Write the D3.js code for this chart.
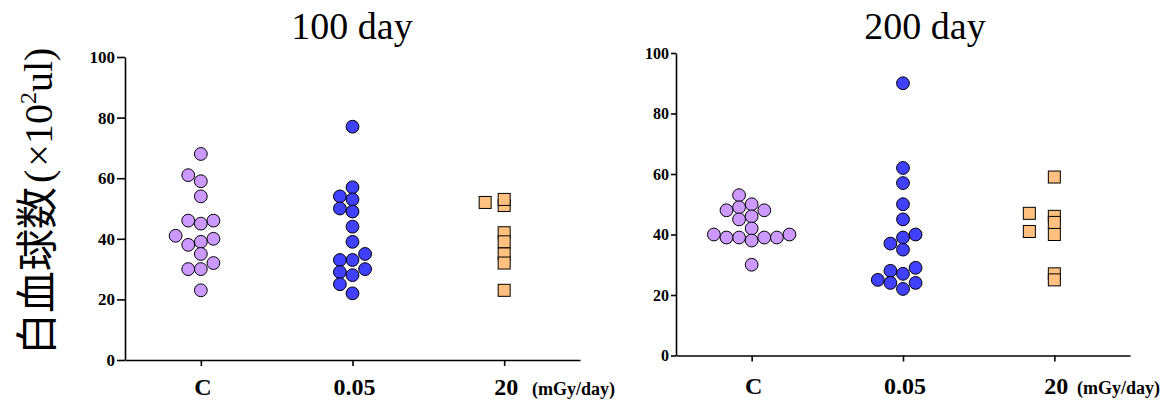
<!DOCTYPE html>
<html>
<head>
<meta charset="utf-8">
<script src="https://cdn.jsdelivr.net/npm/d3@7"></script>
<style>
  body { margin: 0; background: #fff; }
  svg { display: block; }
</style>
</head>
<body>
<svg id="chart" width="1172" height="405"></svg>
<script>
// Dose groups and axis ticks
const groups = ["C", "0.05", "20"];
const yTicks = [0, 20, 40, 60, 80, 100];
const unitLabel = "(mGy/day)";
const panelTitles = ["100 day", "200 day"];

// White blood cell counts (x10^2 /ul), 100 days
const d100Control = [68, 59, 61, 54, 45, 46, 46, 39, 38, 40, 41, 35, 32, 30, 30, 23];
const d100Low     = [77, 57, 53, 54, 49, 50, 44, 39, 33, 30, 33, 35, 28, 29, 25, 22];
const d100High    = [51, 53, 52, 42, 39, 35, 32, 23];

// White blood cell counts (x10^2 /ul), 200 days
const d200Control = [53, 50, 49, 48, 48, 46, 45, 42, 40, 38, 39, 39, 39, 40, 39, 30];
const d200Low     = [90, 62, 57, 50, 45, 40, 39, 37, 35, 28, 29, 27, 25, 24, 24, 22];
const d200High    = [59, 46, 47, 44, 41, 40, 27, 25];

const seriesStyle = {
  "C":    { shape: "circle", fill: "#CC99FF" },
  "0.05": { shape: "circle", fill: "#4040FF" },
  "20":   { shape: "square", fill: "#FFC080" }
};

const serif = "'Liberation Serif', 'Times New Roman', serif";
const svg = d3.select("#chart");

const panels = [
  { title: panelTitles[0], titleX: 352, data: [d100Control, d100Low, d100High],
    x0: 125, x1: 580, yTop: 57, yBottom: 360, tickLen: 8, tickFont: 17, labelY: 395, unitX: 532, squareStep: 19 },
  { title: panelTitles[1], titleX: 925, data: [d200Control, d200Low, d200High],
    x0: 676, x1: 1130, yTop: 53, yBottom: 355.5, tickLen: 5, tickFont: 16, labelY: 394, unitX: 1077, squareStep: 25 }
];

// Column scatter: points are stacked into lanes so that they do not pile up
function swarm(values, cx, y, step, minDist) {
  const order = values.map((v, i) => ({ v, i })).sort((a, b) => a.v - b.v);
  const placed = [];
  const xs = new Array(values.length);
  for (const p of order) {
    const py = y(p.v);
    for (let k = 0; k < 50; k++) {
      const lane = k === 0 ? 0 : (k % 2 ? -Math.ceil(k / 2) : k / 2);
      const px = cx + lane * step;
      if (placed.every(q => Math.hypot(q.x - px, q.y - py) >= minDist)) {
        placed.push({ x: px, y: py });
        xs[p.i] = px;
        break;
      }
    }
  }
  return xs;
}

panels.forEach(p => {
  const g = svg.append("g");
  const x = d3.scalePoint().domain(groups).range([p.x0, p.x1]).padding(0.5);
  const y = d3.scaleLinear().domain([0, 100]).range([p.yBottom, p.yTop]);

  // title
  g.append("text")
    .attr("x", p.titleX).attr("y", 39)
    .attr("text-anchor", "middle")
    .style("font-family", serif).style("font-size", "38px")
    .text(p.title);

  // y axis
  const ya = g.append("g").attr("transform", `translate(${p.x0},0)`)
    .call(d3.axisLeft(y).tickValues(yTicks).tickSize(p.tickLen).tickSizeOuter(0).tickPadding(2));
  ya.select(".domain").attr("stroke-width", 1.6);
  ya.selectAll(".tick line").attr("stroke-width", 1.6);
  ya.selectAll(".tick text")
    .style("font-family", serif).style("font-weight", "bold")
    .style("font-size", p.tickFont + "px").attr("fill", "#000");

  // x axis
  const xa = g.append("g").attr("transform", `translate(0,${p.yBottom})`)
    .call(d3.axisBottom(x).tickSize(6).tickSizeOuter(0).tickFormat(""));
  xa.select(".domain").attr("stroke-width", 1.6);
  xa.selectAll(".tick line").attr("stroke-width", 1.6);

  g.selectAll("text.cat").data(groups).join("text")
    .attr("class", "cat")
    .attr("x", d => x(d) + 2).attr("y", p.labelY)
    .attr("text-anchor", "middle")
    .style("font-family", serif).style("font-weight", "bold").style("font-size", "24px")
    .text(d => d);

  g.append("text")
    .attr("x", p.unitX).attr("y", p.labelY)
    .style("font-family", serif).style("font-weight", "bold").style("font-size", "18px")
    .text(unitLabel);

  // points
  groups.forEach((grp, gi) => {
    const vals = p.data[gi];
    const st = seriesStyle[grp];
    if (st.shape === "circle") {
      const xs = swarm(vals, x(grp), y, 12.6, 11.5);
      g.append("g").selectAll("circle").data(vals).join("circle")
        .attr("cx", (d, i) => xs[i]).attr("cy", d => y(d))
        .attr("r", 6.4)
        .attr("fill", st.fill).attr("stroke", "#000").attr("stroke-width", 1);
    } else {
      const s = 12;
      const xs = swarm(vals, x(grp), y, p.squareStep, 6);
      g.append("g").selectAll("rect").data(vals).join("rect")
        .attr("x", (d, i) => xs[i] - s / 2).attr("y", d => y(d) - s / 2)
        .attr("width", s).attr("height", s)
        .attr("fill", st.fill).attr("stroke", "#000").attr("stroke-width", 1);
    }
  });
});

// y axis title
const yt = svg.append("text")
  .attr("transform", "translate(52,355) rotate(-90)")
  .attr("text-anchor", "start");
yt.append("tspan").style("font-family", "'Noto Sans CJK JP', sans-serif").style("font-size", "42px").text("白血球数");
yt.append("tspan").style("font-family", serif).style("font-size", "40px").attr("dx", 4).text("(");
yt.append("tspan").style("font-family", serif).style("font-size", "40px").attr("dx", 3).text("×10");
yt.append("tspan").style("font-family", serif).style("font-size", "24px").attr("dy", -16).text("2");
yt.append("tspan").style("font-family", serif).style("font-size", "40px").attr("dy", 16).text("ul)");
</script>
</body>
</html>
